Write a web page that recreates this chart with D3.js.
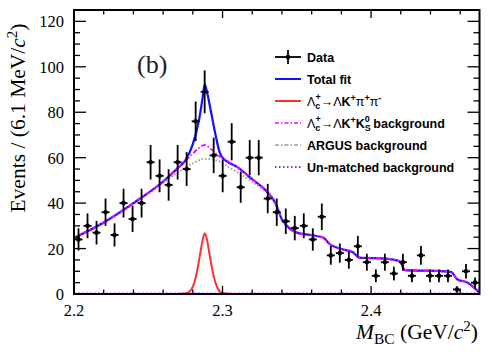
<!DOCTYPE html>
<html lang="en">
<head>
<meta charset="UTF-8">
<title>M_BC fit</title>
<script src="https://d3js.org/d3.v7.min.js"></script>
<style>
  body { margin: 0; background: #fff; }
  .serif { font-family: "Liberation Serif", "DejaVu Serif", serif; }
  .leg { font-family: "Liberation Sans", Arial, sans-serif; font-weight: bold; font-size: 12.5px; }
</style>
</head>
<body>
<svg id="chart" width="490" height="354"></svg>
<script>
// histogram: 45 bins of ~6.1 MeV between 2.200 and 2.473 GeV
const xDomain = [2.2, 2.473];
const counts = [24, 30, 27, 36, 26, 40, 33, 40, 58, 52,
                48, 58, 55, 76, 89, 61, 52, 67, 47, 60,
                60, 42, 36, 32, 29, 30, 24, 34, 17, 18,
                15, 21, 14, 8, 14, 9, 14, 8, 17, 8,
                8, 8, 2, 10, 5];

// fit curves (mass in GeV, events)
const totalM = [2.200, 2.220, 2.240, 2.260, 2.270, 2.275, 2.280, 2.284, 2.2865, 2.288, 2.2895, 2.292, 2.295, 2.298, 2.300,
                2.310, 2.320, 2.330, 2.336, 2.340, 2.343, 2.350, 2.360, 2.368, 2.372, 2.380, 2.388, 2.392, 2.410,
                2.419, 2.423, 2.450, 2.454, 2.458, 2.465, 2.469, 2.473];
const totalV = [24.7, 31.5, 40.0, 49.5, 55.5, 58.8, 66.0, 76.0, 86.0, 92.3, 89.0, 81.0, 71.0, 62.5, 60.0,
                55.8, 50.5, 45.0, 39.5, 32.8, 30.3, 27.0, 25.9, 24.8, 22.0, 19.8, 18.3, 16.0, 15.6,
                14.5, 10.5, 10.0, 9.7, 6.5, 5.0, 3.0, 0.5];

const kksM = [2.200, 2.220, 2.240, 2.260, 2.270, 2.275, 2.280, 2.284, 2.288, 2.292, 2.296, 2.300,
              2.310, 2.320, 2.330, 2.336, 2.340, 2.343, 2.350, 2.360, 2.368, 2.372, 2.380, 2.388, 2.392, 2.410,
              2.419, 2.423, 2.450, 2.454, 2.458, 2.465, 2.469, 2.473];
const kksV = [24.7, 31.5, 40.0, 49.5, 55.5, 58.6, 61.8, 64.2, 65.6, 64.0, 61.5, 59.8,
              55.8, 50.5, 45.0, 39.5, 32.8, 30.3, 27.0, 25.9, 24.8, 22.0, 19.8, 18.3, 16.0, 15.6,
              14.5, 10.5, 10.0, 9.7, 6.5, 5.0, 3.0, 0.5];

const argusM = [2.200, 2.220, 2.240, 2.255, 2.270, 2.280, 2.288, 2.296, 2.305, 2.315, 2.325, 2.335, 2.340,
                2.343, 2.350, 2.360, 2.368, 2.372, 2.380, 2.388, 2.392, 2.410, 2.419, 2.423, 2.450, 2.454,
                2.458, 2.465, 2.469, 2.473];
const argusV = [24.5, 31.2, 39.5, 46.5, 53.5, 57.5, 59.5, 58.8, 55.5, 51.5, 47.0, 41.0, 32.6,
                30.1, 26.8, 25.7, 24.6, 21.8, 19.6, 18.1, 15.8, 15.4, 14.3, 10.3, 9.8, 9.5,
                6.3, 4.8, 2.8, 0.4];

const sigM = [2.200, 2.270, 2.276, 2.279, 2.281, 2.283, 2.285, 2.2865, 2.288, 2.2895, 2.291, 2.293, 2.295, 2.297, 2.300, 2.306, 2.473];
const sigV = [0, 0, 0.5, 2.0, 5.0, 10.5, 18.0, 23.5, 26.7, 24.0, 18.5, 11.0, 5.5, 2.2, 0.4, 0, 0];

const unmM = [2.200, 2.473];
const unmV = [0.3, 0.3];

const xMajor = [2.2, 2.3, 2.4];
const yMajor = [0, 20, 40, 60, 80, 100, 120];

const svg = d3.select("#chart");
const pl = 74, pr = 479.5, pt = 10, pb = 294;

const x = d3.scaleLinear().domain(xDomain).range([pl, pr]);
const y = d3.scaleLinear().domain([0, 125]).range([pb, pt]);

const binW = (xDomain[1] - xDomain[0]) / counts.length;
const bins = counts.map((c, i) => ({ c: c, m: xDomain[0] + (i + 0.5) * binW }));

// curves
const line = (ms, vs) => d3.line().curve(d3.curveMonotoneX)
  .x((d, i) => x(ms[i])).y(d => y(d))(vs);

const g = svg.append("g");
g.append("path").attr("d", line(sigM, sigV))
  .attr("fill", "none").attr("stroke", "#ff3030").attr("stroke-width", 2);
g.append("path").attr("d", line(unmM, unmV))
  .attr("fill", "none").attr("stroke", "#a020e0").attr("stroke-width", 1.5).attr("stroke-dasharray", "1.5,2.5");
g.append("path").attr("d", line(argusM, argusV))
  .attr("fill", "none").attr("stroke", "#999").attr("stroke-width", 1.8).attr("stroke-dasharray", "1.5,2");
g.append("path").attr("d", line(totalM, totalV))
  .attr("fill", "none").attr("stroke", "#1010ff").attr("stroke-width", 2.2);
g.append("path").attr("d", line(kksM, kksV))
  .attr("fill", "none").attr("stroke", "#ff00ff").attr("stroke-width", 1.8).attr("stroke-dasharray", "5,2,1.5,2");

// data points with sqrt(N) errors
const pts = svg.append("g").attr("stroke", "#000").attr("stroke-width", 1.8);
bins.forEach(b => {
  const cx = x(b.m), cy = y(b.c), e = Math.sqrt(b.c);
  pts.append("line").attr("x1", cx).attr("x2", cx)
    .attr("y1", y(Math.min(b.c + e, 125))).attr("y2", Math.min(y(b.c - e), pb));
  pts.append("line").attr("x1", x(b.m - binW / 2) + 0.5).attr("x2", x(b.m + binW / 2) - 0.5)
    .attr("y1", cy).attr("y2", cy);
  pts.append("circle").attr("cx", cx).attr("cy", cy).attr("r", 2.3).attr("fill", "#000").attr("stroke", "none");
});

// frame and ticks
const ax = svg.append("g").attr("stroke", "#000");
ax.append("rect").attr("x", pl).attr("y", pt).attr("width", pr - pl).attr("height", pb - pt)
  .attr("fill", "none").attr("stroke-width", 2);

const xTicks = d3.range(0, 14).map(i => 2.2 + i * 0.02);
xTicks.forEach(t => {
  const major = Math.abs(Math.round(t * 10) - t * 10) < 1e-6;
  const len = major ? 8 : 4.5;
  ax.append("line").attr("x1", x(t)).attr("x2", x(t)).attr("y1", pb).attr("y2", pb - len).attr("stroke-width", 1.3);
  ax.append("line").attr("x1", x(t)).attr("x2", x(t)).attr("y1", pt).attr("y2", pt + len).attr("stroke-width", 1.3);
});
d3.range(0, 125, 5).forEach(t => {
  const len = t % 20 === 0 ? 12 : 6;
  ax.append("line").attr("x1", pl).attr("x2", pl + len).attr("y1", y(t)).attr("y2", y(t)).attr("stroke-width", 1.3);
  ax.append("line").attr("x1", pr).attr("x2", pr - len).attr("y1", y(t)).attr("y2", y(t)).attr("stroke-width", 1.3);
});

// tick labels
svg.selectAll(".yl").data(yMajor).enter().append("text")
  .attr("class", "serif").attr("x", 64).attr("y", d => y(d) + 6)
  .attr("text-anchor", "end").attr("font-size", 16.5).text(d => d);
svg.selectAll(".xl").data(xMajor).enter().append("text")
  .attr("class", "serif").attr("x", d => x(d)).attr("y", 316)
  .attr("text-anchor", "middle").attr("font-size", 16.5).text(d => d.toFixed(1));

// axis titles
const yt = svg.append("text").attr("class", "serif").attr("font-size", 21.5)
  .attr("transform", "translate(25,118) rotate(-90)").attr("text-anchor", "middle");
yt.append("tspan").text("Events / (6.1 MeV/");
yt.append("tspan").attr("font-style", "italic").text("c");
yt.append("tspan").attr("dy", -8).attr("font-size", 15).text("2");
yt.append("tspan").attr("dy", 8).text(")");

const xt = svg.append("text").attr("class", "serif").attr("font-size", 21.5)
  .attr("x", 478).attr("y", 339).attr("text-anchor", "end");
xt.append("tspan").attr("font-style", "italic").text("M");
xt.append("tspan").attr("dy", 5).attr("font-size", 15.5).text("BC");
xt.append("tspan").attr("dy", -5).text(" (GeV/");
xt.append("tspan").attr("font-style", "italic").text("c");
xt.append("tspan").attr("dy", -8).attr("font-size", 15).text("2");
xt.append("tspan").attr("dy", 8).text(")");

svg.append("text").attr("class", "serif").attr("font-size", 26)
  .attr("x", 137).attr("y", 73).attr("fill", "#222").text("(b)");

// legend
const lx0 = 275, lx1 = 301, tx = 307;
const rows = [57, 79, 101, 123, 145, 167];
const leg = svg.append("g");
// data
leg.append("line").attr("x1", lx0).attr("x2", lx1).attr("y1", rows[0]).attr("y2", rows[0]).attr("stroke", "#000").attr("stroke-width", 1.8);
leg.append("line").attr("x1", (lx0 + lx1) / 2).attr("x2", (lx0 + lx1) / 2).attr("y1", rows[0] - 7).attr("y2", rows[0] + 7).attr("stroke", "#000").attr("stroke-width", 1.8);
leg.append("circle").attr("cx", (lx0 + lx1) / 2).attr("cy", rows[0]).attr("r", 2.3);
const sample = (r, col, w, dash) => leg.append("line").attr("x1", lx0).attr("x2", lx1)
  .attr("y1", rows[r]).attr("y2", rows[r]).attr("stroke", col).attr("stroke-width", w)
  .attr("stroke-dasharray", dash);
sample(1, "#1010ff", 2, null);
sample(2, "#ff3030", 2, null);
sample(3, "#ff00ff", 1.5, "4,2,1.5,2");
sample(4, "#999", 1.5, "4,2,1.5,2");
sample(5, "#a020e0", 1.8, "1.5,2.5");

const lt = (r) => leg.append("text").attr("class", "leg").attr("x", tx).attr("y", rows[r] + 4.5);
lt(0).text("Data");
lt(1).text("Total fit");
let t2 = lt(2);
t2.append("tspan").attr("font-weight", "normal").text("Λ");
t2.append("tspan").attr("font-size", 9).attr("dy", 3).text("c");
t2.append("tspan").attr("font-size", 9).attr("dx", -5).attr("dy", -9).text("+");
t2.append("tspan").attr("dy", 6).attr("font-weight", "normal").text("→Λ");
t2.append("tspan").text("K");
t2.append("tspan").attr("font-size", 9).attr("dy", -5).text("+");
t2.append("tspan").attr("dy", 5).attr("font-weight", "normal").text("π");
t2.append("tspan").attr("font-size", 9).attr("dy", -5).text("+");
t2.append("tspan").attr("dy", 5).attr("font-weight", "normal").text("π");
t2.append("tspan").attr("font-size", 9).attr("dy", -5).text("-");
let t3 = lt(3);
t3.append("tspan").attr("font-weight", "normal").text("Λ");
t3.append("tspan").attr("font-size", 9).attr("dy", 3).text("c");
t3.append("tspan").attr("font-size", 9).attr("dx", -5).attr("dy", -9).text("+");
t3.append("tspan").attr("dy", 6).attr("font-weight", "normal").text("→Λ");
t3.append("tspan").text("K");
t3.append("tspan").attr("font-size", 9).attr("dy", -5).text("+");
t3.append("tspan").attr("dy", 5).text("K");
t3.append("tspan").attr("font-size", 9).attr("dy", 3).text("S");
t3.append("tspan").attr("font-size", 9).attr("dx", -6).attr("dy", -9).text("0");
t3.append("tspan").attr("dy", 6).text(" background");
lt(4).text("ARGUS background");
lt(5).text("Un-matched background");
</script>
</body>
</html>
